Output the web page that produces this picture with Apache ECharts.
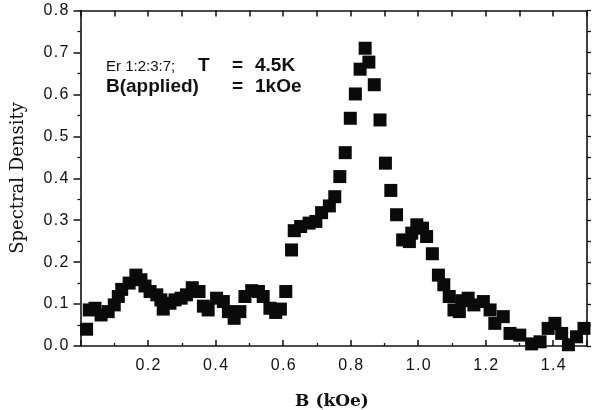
<!DOCTYPE html>
<html>
<head>
<meta charset="utf-8">
<script src="https://cdn.jsdelivr.net/npm/echarts@6/dist/echarts.min.js"></script>
<style>
html,body{margin:0;padding:0;background:#fff;}
#chart{width:593px;height:410px;}
</style>
</head>
<body>
<div id="chart"></div>
<script>
// B field (kOe)
var bValues = [
  0.018, 0.026, 0.043, 0.061, 0.082, 0.100, 0.112, 0.122, 0.144, 0.164,
  0.179, 0.191, 0.206, 0.226, 0.238, 0.245, 0.265, 0.280, 0.298, 0.314,
  0.331, 0.351, 0.364, 0.378, 0.403, 0.423, 0.438, 0.455, 0.472, 0.487,
  0.507, 0.527, 0.541, 0.561, 0.578, 0.592, 0.608, 0.625, 0.633, 0.652,
  0.677, 0.697, 0.714, 0.737, 0.753, 0.768, 0.784, 0.799, 0.814, 0.828,
  0.843, 0.854, 0.870, 0.887, 0.903, 0.919, 0.936, 0.954, 0.974, 0.981,
  0.996, 1.013, 1.025, 1.042, 1.060, 1.076, 1.092, 1.106, 1.122, 1.129,
  1.148, 1.165, 1.193, 1.213, 1.227, 1.252, 1.272, 1.301, 1.336, 1.361,
  1.385, 1.405, 1.425, 1.445, 1.469, 1.491
];
// Spectral density
var densityValues = [
  0.040, 0.086, 0.090, 0.074, 0.082, 0.098, 0.118, 0.135, 0.150, 0.169,
  0.158, 0.143, 0.130, 0.122, 0.110, 0.088, 0.102, 0.110, 0.114, 0.122,
  0.139, 0.130, 0.095, 0.086, 0.114, 0.106, 0.082, 0.066, 0.082, 0.118,
  0.132, 0.130, 0.118, 0.090, 0.080, 0.088, 0.130, 0.229, 0.275, 0.285,
  0.293, 0.297, 0.318, 0.334, 0.356, 0.404, 0.461, 0.543, 0.601, 0.660,
  0.710, 0.677, 0.623, 0.539, 0.436, 0.371, 0.313, 0.253, 0.249, 0.269,
  0.289, 0.281, 0.261, 0.220, 0.169, 0.146, 0.118, 0.086, 0.082, 0.108,
  0.114, 0.098, 0.106, 0.086, 0.054, 0.070, 0.030, 0.026, 0.005, 0.010,
  0.042, 0.054, 0.030, 0.003, 0.022, 0.042
];
var xTickLabels = ['0.2', '0.4', '0.6', '0.8', '1.0', '1.2', '1.4'];
var yTickLabels = ['0.0', '0.1', '0.2', '0.3', '0.4', '0.5', '0.6', '0.7', '0.8'];

var points = bValues.map(function (b, i) { return [b, densityValues[i]]; });

function spaced(s) { return s.replace('.', '\u200A.\u200A'); }

var chart = echarts.init(document.getElementById('chart'), null, {renderer: 'canvas'});
var axisCol = '#111';
var labelFont = {color: '#111', fontFamily: 'Liberation Sans, Arial, sans-serif', fontSize: 16};

chart.setOption({
  animation: false,
  backgroundColor: '#fff',
  grid: {left: 80.5, right: 6, top: 10.5, bottom: 64, containLabel: false},
  xAxis: [{
    type: 'value', position: 'bottom', min: 0, max: 1.5, interval: 0.2,
    axisLine: {show: true, onZero: false, lineStyle: {color: axisCol, width: 1.6}},
    axisTick: {show: true, inside: true, length: 6, lineStyle: {color: axisCol, width: 1.5}},
    minorTick: {show: true, splitNumber: 2, length: 3, lineStyle: {color: axisCol, width: 1.3}},
    splitLine: {show: false},
    axisLabel: Object.assign({
      margin: 12,
      formatter: function (v) {
        var s = v.toFixed(1);
        return xTickLabels.indexOf(s) >= 0 ? spaced(s) : '';
      }
    }, labelFont)
  }, {
    type: 'value', position: 'top', min: 0, max: 1.5, interval: 0.1,
    axisLine: {show: true, onZero: false, lineStyle: {color: axisCol, width: 1.6}},
    axisTick: {show: true, inside: true, length: 6, lineStyle: {color: axisCol, width: 1.5}},
    splitLine: {show: false},
    axisLabel: {show: false}
  }],
  yAxis: [{
    type: 'value', position: 'left', min: 0, max: 0.8, interval: 0.1,
    axisLine: {show: true, onZero: false, lineStyle: {color: axisCol, width: 1.6}},
    axisTick: {show: true, inside: false, length: 7, lineStyle: {color: axisCol, width: 1.5}},
    minorTick: {show: true, splitNumber: 2, length: 3, lineStyle: {color: axisCol, width: 1.3}},
    splitLine: {show: false},
    axisLabel: Object.assign({
      margin: 12,
      formatter: function (v) {
        var s = v.toFixed(1);
        return yTickLabels.indexOf(s) >= 0 ? spaced(s) : '';
      }
    }, labelFont)
  }, {
    type: 'value', position: 'right', min: 0, max: 0.8, interval: 0.05,
    axisLine: {show: true, onZero: false, lineStyle: {color: axisCol, width: 1.6}},
    axisTick: {show: true, inside: false, length: 4, lineStyle: {color: axisCol, width: 1.3}},
    splitLine: {show: false},
    axisLabel: {show: false}
  }],
  series: [{
    type: 'scatter',
    xAxisIndex: 0, yAxisIndex: 0,
    symbol: 'rect',
    symbolSize: 13,
    clip: false,
    itemStyle: {color: '#0a0a0a', opacity: 1},
    emphasis: {disabled: true},
    data: points
  }],
  graphic: [
    {type: 'text', x: 18, y: 178, rotation: Math.PI / 2,
      style: {text: 'Spectral Density', font: '18px "DejaVu Serif", serif', fill: '#111',
        textAlign: 'center', textVerticalAlign: 'middle'}},
    {type: 'text', x: 332, y: 402,
      style: {text: 'B (kOe)', font: 'bold 17px "DejaVu Serif", serif', fill: '#111',
        textAlign: 'center', textVerticalAlign: 'middle'}},
    {type: 'text', x: 106, y: 67,
      style: {text: 'Er 1:2:3:7;', font: '15px "Liberation Sans", Arial, sans-serif', fill: '#111',
        textAlign: 'left', textVerticalAlign: 'middle'}},
    {type: 'text', x: 198, y: 66,
      style: {text: 'T', font: 'bold 19px "Liberation Sans", Arial, sans-serif', fill: '#111',
        textAlign: 'left', textVerticalAlign: 'middle'}},
    {type: 'text', x: 232, y: 66,
      style: {text: '=', font: 'bold 19px "Liberation Sans", Arial, sans-serif', fill: '#111',
        textAlign: 'left', textVerticalAlign: 'middle'}},
    {type: 'text', x: 255, y: 66,
      style: {text: '4.5K', font: 'bold 19px "Liberation Sans", Arial, sans-serif', fill: '#111',
        textAlign: 'left', textVerticalAlign: 'middle'}},
    {type: 'text', x: 106, y: 86.5,
      style: {text: 'B(applied)', font: 'bold 19px "Liberation Sans", Arial, sans-serif', fill: '#111',
        textAlign: 'left', textVerticalAlign: 'middle'}},
    {type: 'text', x: 232, y: 86.5,
      style: {text: '=', font: 'bold 19px "Liberation Sans", Arial, sans-serif', fill: '#111',
        textAlign: 'left', textVerticalAlign: 'middle'}},
    {type: 'text', x: 255, y: 86.5,
      style: {text: '1kOe', font: 'bold 19px "Liberation Sans", Arial, sans-serif', fill: '#111',
        textAlign: 'left', textVerticalAlign: 'middle'}}
  ]
});
</script>
</body>
</html>
